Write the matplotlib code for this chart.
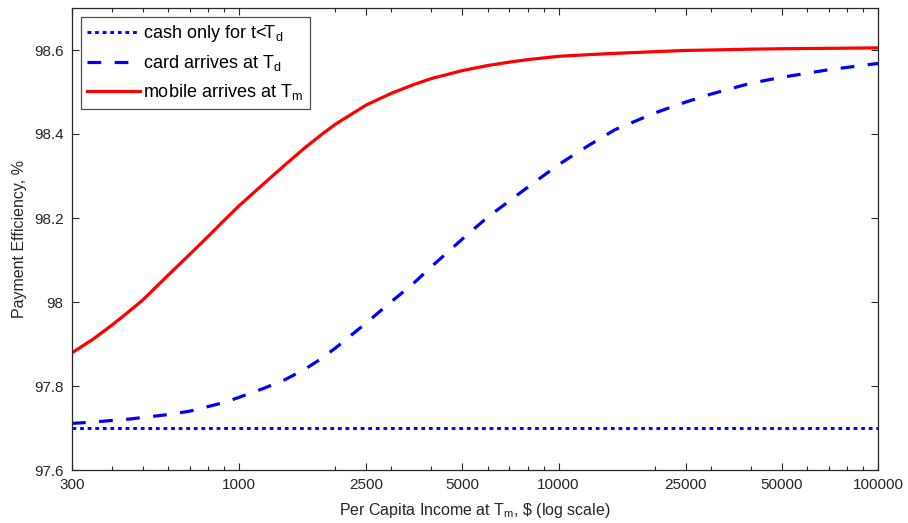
import numpy as np
import matplotlib
matplotlib.use("Agg")
import matplotlib.pyplot as plt
from matplotlib.ticker import FixedLocator, NullFormatter

plt.rcParams['font.family'] = ['Liberation Sans', 'DejaVu Sans']
plt.rcParams['mathtext.fontset'] = 'custom'
plt.rcParams['mathtext.rm'] = 'Liberation Sans'
plt.rcParams['mathtext.it'] = 'Liberation Sans'

income = [300, 350, 400, 450, 500, 600, 700, 800, 900, 1000, 1200, 1400, 1600,
          1800, 2000, 2500, 3000, 3500, 4000, 5000, 6000, 7000, 8000, 10000,
          12500, 15000, 20000, 25000, 30000, 40000, 50000, 70000, 100000]
cash_only = [97.70] * len(income)
card = [97.711, 97.714, 97.718, 97.721, 97.725, 97.732, 97.740, 97.751, 97.761,
        97.773, 97.795, 97.816, 97.839, 97.864, 97.890, 97.950, 98.001, 98.043,
        98.084, 98.150, 98.202, 98.240, 98.273, 98.327, 98.374, 98.410, 98.450,
        98.476, 98.495, 98.521, 98.535, 98.553, 98.568]
mobile = [97.879, 97.912, 97.945, 97.976, 98.005, 98.064, 98.113, 98.156, 98.195,
          98.229, 98.283, 98.328, 98.366, 98.397, 98.423, 98.469, 98.497, 98.517,
          98.532, 98.551, 98.563, 98.571, 98.577, 98.585, 98.589, 98.592, 98.596,
          98.599, 98.600, 98.602, 98.603, 98.604, 98.605]
xticks = [300, 1000, 2500, 5000, 10000, 25000, 50000, 100000]
yticks = [97.6, 97.8, 98.0, 98.2, 98.4, 98.6]
ytick_labels = ['97.6', '97.8', '98', '98.2', '98.4', '98.6']

W, H = 908, 523
fig = plt.figure(figsize=(W / 100, H / 100), dpi=100)
ax = fig.add_axes([72 / W, (H - 470) / H, (878 - 72) / W, (470 - 8) / H])

ax.plot(income, cash_only, color='#0000ff', linestyle=(0, (1.3, 1.3)), linewidth=2.1,
        label='cash only for t<T$_{\\mathrm{d}}$')
ax.plot(income, card, color='#0000ff', linestyle=(0, (4.3, 4.2)), linewidth=2.3,
        label='card arrives at T$_{\\mathrm{d}}$')
ax.plot(income, mobile, color='#ff0000', linestyle='-', linewidth=2.3,
        label='mobile arrives at T$_{\\mathrm{m}}$')

ax.set_xscale('log')
ax.set_xlim(300, 100000)
ax.set_ylim(97.6, 98.7)
ax.xaxis.set_major_locator(FixedLocator(xticks))
ax.set_xticklabels([str(t) for t in xticks])
minors = [m * d for d in (100, 1000, 10000) for m in range(2, 10)
          if 300 < m * d < 100000 and m * d not in xticks]
ax.xaxis.set_minor_locator(FixedLocator(minors))
ax.xaxis.set_minor_formatter(NullFormatter())
ax.set_yticks(yticks)
ax.set_yticklabels(ytick_labels)

ax.tick_params(axis='both', which='both', direction='in', top=True, right=True,
               labelsize=11, colors='#262626', pad=6)
ax.tick_params(which='major', length=5, width=0.8)
ax.tick_params(which='minor', length=3, width=0.8)
for s in ax.spines.values():
    s.set_color('#262626')
    s.set_linewidth(0.9)

ax.set_xlabel('Per Capita Income at T$_{\\mathrm{m}}$, \\$ (log scale)',
              fontsize=11.5, color='#262626', labelpad=6)
ax.set_ylabel('Payment Efficiency, %', fontsize=11.5, color='#262626', labelpad=5)

leg = ax.legend(loc='upper left', bbox_to_anchor=(81 / W, 1 - 17 / H),
                bbox_transform=fig.transFigure, borderaxespad=0,
                fontsize=13, frameon=True, fancybox=False,
                edgecolor='#262626', handlelength=2.9, handletextpad=0.2,
                labelspacing=0.5, borderpad=0.35)
leg.get_frame().set_linewidth(0.9)

fig.savefig('out.png', dpi=100)
